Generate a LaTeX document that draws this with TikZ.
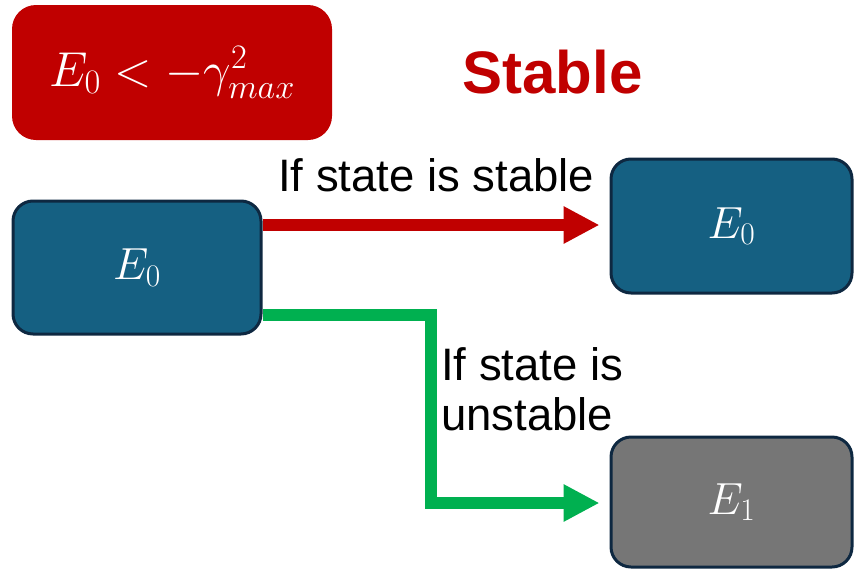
\RequirePackage{fix-cm}
\documentclass[tikz,border=0pt]{standalone}
\usepackage{fontspec}
\setmainfont{Liberation Sans}
\usetikzlibrary{arrows.meta}
\definecolor{condred}{HTML}{C00000}
\definecolor{statebl}{HTML}{156082}
\definecolor{stateln}{HTML}{0E2841}
\definecolor{stategr}{HTML}{767676}
\definecolor{flowgr}{HTML}{00B050}
\tikzset{
  statebox/.style={draw=stateln, line width=3pt, rounded corners=20pt,
    text=white, inner sep=0pt, font=\fontsize{45}{50}\selectfont},
  condbox/.style={fill=condred, rounded corners=24pt, text=white,
    inner sep=0pt, font=\fontsize{49}{54}\selectfont},
  flow/.style={line width=12pt, miter limit=10,
    -{Triangle[length=36pt,width=35pt]}},
  lbl/.style={inner sep=0pt, text=black, font=\fontsize{45.5}{50}\selectfont}
}
\begin{document}
\begin{tikzpicture}[x=1pt, y=-1pt]
\useasboundingbox (0,0) rectangle (854,568);

% condition and heading
\node[condbox, minimum width=320pt, minimum height=135pt] (cond) at (172,72.5)
  {$E_0 < -\gamma_{max}^2$};
\node[inner sep=0pt, anchor=base, text=condred,
  font=\fontsize{60}{66}\selectfont\bfseries] (title) at (552.5,93) {Stable};

% states
\node[statebox, fill=statebl, minimum width=248pt, minimum height=133pt] (src) at (137,267.5) {$E_0$};
\node[statebox, fill=statebl, minimum width=241pt, minimum height=134pt] (stab) at (731.5,226) {$E_0$};
\node[statebox, fill=stategr, minimum width=241pt, minimum height=130pt] (unst) at (731.5,502) {$E_1$};

% branch points
\coordinate (rs) at (src.east |- 0,225);
\coordinate (gs) at (src.east |- 0,315);
\coordinate (ge) at (unst.west |- 0,503);

% connectors
\draw[flow, draw=condred, shorten >=10pt] (rs) -- (rs -| stab.west);
\draw[flow, draw=flowgr, shorten >=10pt] (gs) -- (431,315) -- (431,503) -- (ge);

% labels
\node[lbl, anchor=base west] (lstab) at (278,191) {If state is stable};
\node[lbl, anchor=base west] (lun1) at (441,380) {If state is};
\node[lbl, anchor=base west] (lun2) at (441,430) {unstable};
\end{tikzpicture}
\end{document}
